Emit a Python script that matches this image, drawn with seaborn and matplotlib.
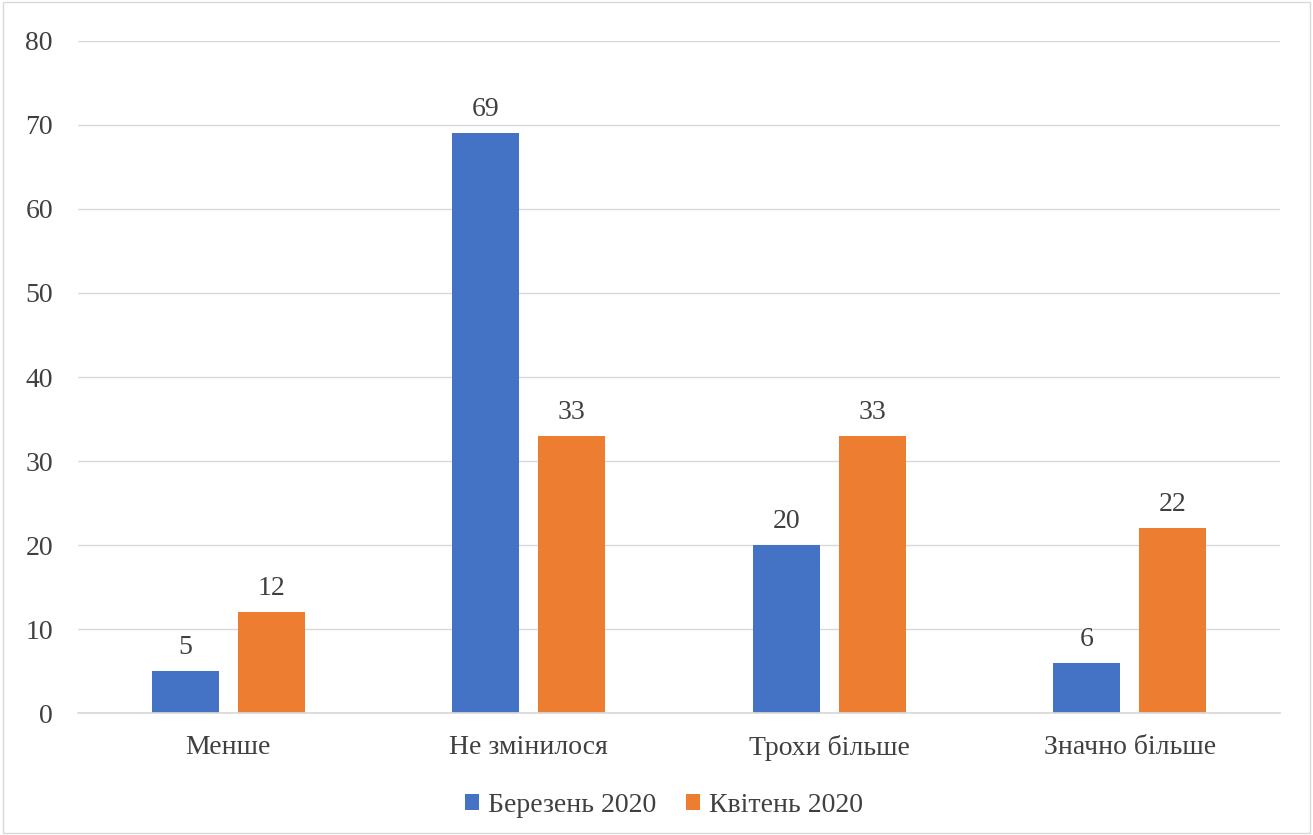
import pandas as pd
import matplotlib.pyplot as plt
import seaborn as sns
from matplotlib.patches import Rectangle

categories = ['Менше', 'Не змінилося', 'Трохи більше', 'Значно більше']
series = ['Березень 2020', 'Квітень 2020']
march = [5, 69, 20, 6]
april = [12, 33, 33, 22]
colors = ['#4472c4', '#ed7d31']

df = pd.DataFrame({
    'category': categories * 2,
    'period': [series[0]] * 4 + [series[1]] * 4,
    'value': march + april,
})

sns.set_theme(style='white')
plt.rcParams['font.family'] = ['Liberation Serif', 'DejaVu Serif']

fig = plt.figure(figsize=(13.13, 8.35), dpi=100)
ax = fig.add_axes([0.0594, 0.146, 0.9156, 0.805])

sns.barplot(data=df, x='category', y='value', hue='period', order=categories,
            hue_order=series, palette=colors, width=0.572, gap=0.22,
            saturation=1, linewidth=0, ax=ax, legend=True)

for cont in ax.containers:
    ax.bar_label(cont, padding=8, fontsize=20, color='#404040')

ax.set_ylim(0, 80)
ax.set_xlim(-0.5, 3.5)
ax.set_yticks(range(0, 81, 10))
ax.yaxis.grid(True, color='#d9d9d9', linewidth=1)
ax.set_axisbelow(True)
ax.set_xlabel('')
ax.set_ylabel('')
ax.tick_params(axis='both', labelsize=20, colors='#404040', length=0)
ax.tick_params(axis='x', pad=16)
ax.tick_params(axis='y', pad=18)
for s in ['left', 'right', 'top']:
    ax.spines[s].set_visible(False)
ax.spines['bottom'].set_color('#d9d9d9')

ax.legend(loc='center', bbox_to_anchor=(0.4875, -0.137), ncol=2, frameon=False,
          fontsize=20, handlelength=0.5, handleheight=0.5, columnspacing=1.1,
          handletextpad=0.3, labelcolor='#404040')

fig.patches.append(Rectangle((0.002, 0.002), 0.996, 0.996, transform=fig.transFigure,
                             fill=False, edgecolor='#d9d9d9', linewidth=1))

fig.savefig('out.png', dpi=100)
